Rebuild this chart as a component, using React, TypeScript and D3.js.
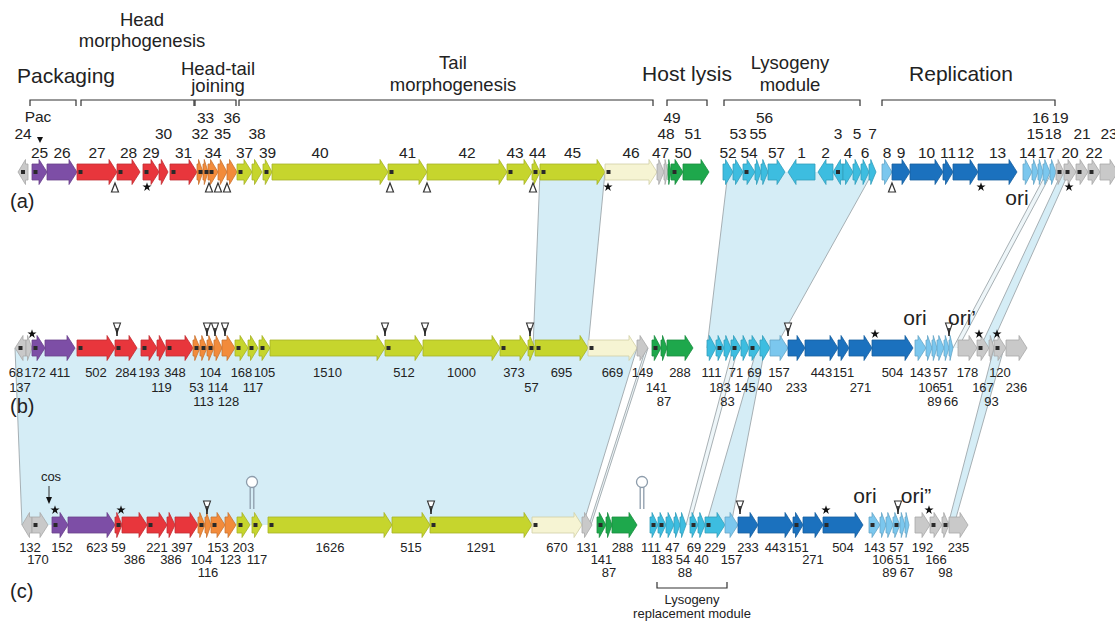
import React, { useEffect, useRef } from "react";
import * as d3 from "d3";

const W = 1115;
const H = 623;

// gene: [name, start (kb), end (kb), colour key, label level, flags ("m" marker, "<" leftward), label pos (kb)]
type Gene = [string, number, number, string, number, string?, number?];

const genesA: Gene[] = [
  ["24", 0.72, 1.12, "g", 2, "m<"], ["25", 1.28, 1.88, "p", 1, "m"], ["26", 1.88, 3.08, "p", 1],
  ["27", 3.08, 4.68, "r", 1, "m"], ["28", 4.68, 5.6, "r", 1, "m"], ["29", 5.72, 6.36, "r", 1, "m"],
  ["30", 6.36, 6.72, "r", 2], ["31", 6.8, 7.88, "r", 1, "m"], ["32", 7.88, 8.12, "o", 2, "m"],
  ["33", 8.12, 8.32, "o", 3, "m"], ["34", 8.32, 8.72, "o", 1, "m"], ["35", 8.72, 9.08, "o", 2],
  ["36", 9.08, 9.48, "o", 3], ["37", 9.48, 10.08, "y", 1, "m"], ["38", 10.08, 10.48, "y", 2],
  ["39", 10.52, 10.88, "y", 1, "m"], ["40", 10.88, 15.52, "y", 1, "", 12.8], ["41", 15.52, 17.08, "y", 1, "m"],
  ["42", 17.08, 20.28, "y", 1], ["43", 20.28, 21.28, "y", 1, "m", 20.6], ["44", 21.28, 21.6, "y", 1, "m", 21.5],
  ["45", 21.6, 24.2, "y", 1, "m"], ["46", 24.2, 26.28, "w", 1, "m"], ["47", 26.28, 26.56, "g", 1],
  ["48", 26.56, 26.72, "g", 2], ["49", 26.72, 26.84, "G", 3, "", 26.88], ["50", 26.84, 27.32, "G", 1, "m", 27.32],
  ["51", 27.32, 28.36, "G", 2, "", 27.72], ["52", 28.92, 29.32, "c", 1], ["53", 29.32, 29.72, "c", 2],
  ["54", 29.72, 30.2, "c", 1, "m"], ["55", 30.2, 30.44, "c", 2], ["56", 30.44, 30.72, "c", 3],
  ["57", 30.72, 31.4, "c", 1], ["1", 31.52, 32.6, "c", 1, "<"], ["2", 32.72, 33.32, "c", 1, "<"],
  ["3", 33.32, 33.72, "c", 2, "m<"], ["4", 33.72, 34.12, "c", 1], ["5", 34.12, 34.44, "c", 2],
  ["6", 34.44, 34.76, "c", 1], ["7", 34.76, 35.04, "c", 2], ["8", 35.28, 35.68, "b", 1],
  ["9", 35.68, 36.4, "B", 1], ["10", 36.4, 37.72, "B", 1], ["11", 37.72, 38.12, "B", 1],
  ["12", 38.12, 39.12, "B", 1], ["13", 39.12, 40.68, "B", 1], ["14", 40.92, 41.28, "b", 1],
  ["15", 41.28, 41.52, "b", 2], ["16", 41.52, 41.72, "b", 3], ["17", 41.72, 42.0, "b", 1],
  ["18", 42.0, 42.24, "b", 2], ["19", 42.24, 42.56, "g", 3, "m"], ["20", 42.56, 43.04, "g", 1, "m"],
  ["21", 43.04, 43.52, "g", 2, "m"], ["22", 43.52, 44.0, "g", 1, "m"], ["23", 44.0, 44.72, "g", 2],
];

const genesB: Gene[] = [
  ["68", 0.6, 1.04, "g", 1, "m<", 0.64], ["137", 1.04, 1.28, "g", 2, "", 0.8], ["172", 1.28, 1.8, "p", 1, "m", 1.4],
  ["411", 1.8, 3.0, "p", 1, "", 2.4], ["502", 3.08, 4.6, "r", 1, "m"], ["284", 4.6, 5.48, "r", 1, "m"],
  ["193", 5.64, 6.28, "r", 1, "m"], ["119", 6.28, 6.64, "r", 2], ["348", 6.64, 7.72, "r", 1, "m", 7.0],
  ["53", 7.72, 8.0, "o", 2, "m"], ["113", 8.0, 8.28, "o", 3, "m"], ["104", 8.28, 8.56, "o", 1, "m"],
  ["114", 8.56, 8.88, "o", 2], ["128", 8.88, 9.4, "o", 3], ["168", 9.4, 9.92, "y", 1, "m"],
  ["117", 9.92, 10.32, "y", 2, "m"], ["105", 10.36, 10.8, "y", 1, "m"], ["1510", 10.8, 15.4, "y", 1],
  ["512", 15.4, 16.92, "y", 1, "m"], ["1000", 16.92, 20.0, "y", 1], ["373", 20.0, 21.12, "y", 1, "m"],
  ["57", 21.12, 21.4, "y", 2, "m"], ["695", 21.4, 23.52, "y", 1, "m"], ["669", 23.52, 25.48, "w", 1, "m"],
  ["149", 25.48, 25.92, "g", 1], ["141", 26.08, 26.44, "G", 2, "m"], ["87", 26.44, 26.68, "G", 3],
  ["288", 26.68, 27.72, "G", 1], ["111", 28.28, 28.64, "c", 1], ["183", 28.64, 28.96, "c", 2, "m"],
  ["83", 28.96, 29.24, "c", 3], ["71", 29.24, 29.64, "c", 1, "m"], ["145", 29.64, 29.96, "c", 2],
  ["69", 29.96, 30.4, "c", 1, "m"], ["40", 30.4, 30.8, "c", 2], ["157", 30.8, 31.52, "b", 1],
  ["233", 31.52, 32.2, "B", 2], ["443", 32.2, 33.52, "B", 1], ["151", 33.52, 33.96, "B", 1],
  ["271", 33.96, 34.88, "B", 2], ["504", 34.88, 36.52, "B", 1], ["143", 36.6, 37.04, "b", 1],
  ["106", 37.04, 37.28, "b", 2], ["89", 37.28, 37.48, "b", 3], ["57", 37.48, 37.76, "b", 1],
  ["51", 37.76, 37.96, "b", 2], ["66", 37.96, 38.12, "b", 3], ["178", 38.32, 39.08, "g", 1],
  ["167", 39.08, 39.56, "g", 2, "m"], ["93", 39.56, 39.76, "g", 3], ["120", 39.76, 40.24, "g", 1, "m"],
  ["236", 40.24, 41.08, "g", 2],
];

const genesC: Gene[] = [
  ["132", 0.88, 1.28, "g", 1, "<", 1.2], ["170", 1.28, 1.92, "g", 2, "m", 1.52], ["152", 2.08, 2.72, "p", 1, "m", 2.48],
  ["623", 2.72, 4.6, "p", 1, "", 3.88], ["59", 4.6, 4.88, "r", 1, "m"], ["386", 4.88, 5.88, "r", 2],
  ["221", 5.88, 6.68, "r", 1, "m"], ["386", 6.68, 7.0, "r", 2], ["397", 7.0, 7.92, "r", 1, "", 7.28],
  ["104", 7.92, 8.2, "o", 2, "m"], ["116", 8.2, 8.44, "o", 3], ["153", 8.44, 9.0, "o", 1, "m"],
  ["123", 9.0, 9.44, "o", 2], ["203", 9.48, 10.0, "y", 1, "m"], ["117", 10.08, 10.48, "y", 2, "m"],
  ["1626", 10.72, 15.68, "y", 1, "m"], ["515", 15.68, 17.2, "y", 1], ["1291", 17.2, 21.28, "y", 1, "m"],
  ["670", 21.28, 23.28, "w", 1, "m"], ["131", 23.28, 23.68, "g", 1], ["141", 23.88, 24.24, "G", 2, "m"],
  ["87", 24.24, 24.48, "G", 3], ["288", 24.48, 25.48, "G", 1, "", 24.9], ["111", 26.0, 26.32, "c", 1, "m", 26.04],
  ["183", 26.32, 26.64, "c", 2, "m"], ["47", 26.64, 26.96, "c", 1, "", 26.9], ["88", 26.96, 27.2, "c", 3, "", 27.4],
  ["54", 27.2, 27.44, "c", 2], ["69", 27.6, 27.92, "c", 1, "m"], ["40", 27.92, 28.2, "c", 2],
  ["229", 28.2, 29.0, "c", 1, "m"], ["157", 29.0, 29.52, "b", 2], ["233", 29.52, 30.32, "B", 1],
  ["443", 30.32, 31.72, "B", 1], ["151", 31.72, 32.12, "B", 1, "m"], ["271", 32.12, 32.92, "B", 2],
  ["504", 32.92, 34.52, "B", 1, "m"], ["143", 34.76, 35.2, "b", 1, "m"], ["106", 35.2, 35.44, "b", 2],
  ["89", 35.44, 35.72, "b", 3], ["57", 35.72, 36.0, "b", 1, "m"], ["51", 36.0, 36.2, "b", 2],
  ["67", 36.2, 36.36, "b", 3], ["192", 36.6, 37.2, "g", 1], ["166", 37.2, 37.68, "g", 2, "m"],
  ["98", 37.68, 37.96, "g", 3, "m"], ["235", 37.96, 38.72, "g", 1],
];

// homologous regions between genomes: [from, s, e, to, s, e, kind]
const links: [string, number, number, string, number, number, string][] = [
  ["a", 21.6, 24.2, "b", 21.32, 23.52, "band"],
  ["a", 29.12, 34.92, "b", 28.28, 31.0, "band"],
  ["a", 41.88, 42.08, "b", 38.12, 38.32, "line"],
  ["a", 42.48, 42.76, "b", 39.2, 39.6, "band"],
  ["b", 0.6, 25.48, "c", 0.88, 23.32, "band"],
  ["b", 25.84, 25.92, "c", 23.56, 23.64, "line"],
  ["b", 29.32, 29.52, "c", 27.44, 27.6, "line"],
  ["b", 30.28, 30.6, "c", 28.24, 29.24, "band"],
  ["b", 39.76, 40.16, "c", 37.92, 38.16, "band"],
];

const triA = [4.6, 8.36, 8.72, 9.08, 15.6, 17.08, 21.32, 35.68];
const starA = [5.88, 24.32, 39.24, 42.76];
const triB = [4.68, 8.28, 8.6, 9.0, 15.4, 17.0, 21.2, 31.52, 37.96];
const starB = [1.28, 35.0, 39.16, 39.88];
const triC = [8.28, 17.24, 29.6, 35.92];
const starC = [2.2, 4.84, 33.04, 37.16];
const loopsC = [10.08, 25.68];

const modules: [string, number, number][] = [
  ["Packaging", 1.2, 3.04], ["Head morphogenesis", 3.24, 7.76], ["Head-tail joining", 7.8, 9.44],
  ["Tail morphogenesis", 9.56, 26.12], ["Host lysis", 26.68, 28.28], ["Lysogeny module", 28.96, 34.4],
  ["Replication", 35.28, 42.2],
];

const oriLabels: [string, string, number][] = [
  ["a", "ori", 40.68], ["b", "ori", 36.6], ["b", "ori\u2019", 38.48], ["c", "ori", 34.6], ["c", "ori\u201d", 36.64],
];

const colours: Record<string, string> = {
  g: "#c9c9c9", p: "#7d4ea6", r: "#e8363c", o: "#f28b3b", y: "#c6d52d", w: "#f6f4d3",
  G: "#1ea84c", c: "#3dbde0", b: "#7bc7ee", B: "#1b71be",
};

const FONT = "'Liberation Sans', Arial, Helvetica, sans-serif";

export default function App() {
  const svgRef = useRef<SVGSVGElement>(null);

  useEffect(() => {
    const svg = d3.select(svgRef.current);
    svg.selectAll("*").remove();
    svg.attr("font-family", FONT);

    const x = d3.scaleLinear().domain([0, 44.6]).range([0, W]);
    const rowY: Record<string, number> = { a: 172, b: 348, c: 525 };
    const labelY: Record<string, number[]> = { a: [158, 139, 123], b: [377, 392, 406], c: [552, 564, 577] };
    const labelSize: Record<string, number> = { a: 15.5, b: 13, c: 13 };

    // shaded homology
    const gLinks = svg.append("g");
    links.forEach(([r1, s1, e1, r2, s2, e2, kind]) => {
      const y1 = rowY[r1], y2 = rowY[r2];
      gLinks.append("path")
        .attr("d", `M${x(s1)},${y1}L${x(e1)},${y1}L${x(e2)},${y2}L${x(s2)},${y2}Z`)
        .attr("fill", kind === "band" ? "#d5edf6" : "#eef6f9")
        .attr("stroke", "none");
      [[s1, s2], [e1, e2]].forEach(([a, b]) => {
        gLinks.append("line")
          .attr("x1", x(a)).attr("y1", y1).attr("x2", x(b)).attr("y2", y2)
          .attr("stroke", "#9ea7ab").attr("stroke-width", 0.9);
      });
    });

    const arrow = (x0: number, x1: number, yc: number, left: boolean) => {
      const bh = 8, hh = 12.5;
      const len = Math.max(x1 - x0, 2);
      const hl = Math.min(8, len * 0.75);
      if (!left) {
        const xb = x1 - hl;
        return `M${x0},${yc - bh}L${xb},${yc - bh}L${xb},${yc - hh}L${x1},${yc}L${xb},${yc + hh}L${xb},${yc + bh}L${x0},${yc + bh}Z`;
      }
      const xb = x0 + hl;
      return `M${x1},${yc - bh}L${xb},${yc - bh}L${xb},${yc - hh}L${x0},${yc}L${xb},${yc + hh}L${xb},${yc + bh}L${x1},${yc + bh}Z`;
    };

    const rows: [string, Gene[]][] = [["a", genesA], ["b", genesB], ["c", genesC]];
    rows.forEach(([id, genes]) => {
      const yc = rowY[id];
      const g = svg.append("g");
      g.selectAll("path.gene")
        .data(genes)
        .enter()
        .append("path")
        .attr("class", "gene")
        .attr("d", (d) => arrow(x(d[1]), x(d[2]), yc, (d[5] || "").includes("<")))
        .attr("fill", (d) => colours[d[3]])
        .attr("stroke", (d) => (d[3] === "w" ? "#d2cfa6" : d3.color(colours[d[3]])!.darker(0.5).toString()))
        .attr("stroke-width", 0.8);

      g.selectAll("rect.mk")
        .data(genes.filter((d) => (d[5] || "").includes("m")))
        .enter()
        .append("rect")
        .attr("class", "mk")
        .attr("x", (d) => ((d[5] || "").includes("<") ? (x(d[1]) + x(d[2])) / 2 - 2 : x(d[1]) + 1.5))
        .attr("y", yc - 2)
        .attr("width", 4)
        .attr("height", 4)
        .attr("fill", "#2a2a2a");

      g.selectAll("text.lab")
        .data(genes)
        .enter()
        .append("text")
        .attr("class", "lab")
        .attr("x", (d) => x(d[6] !== undefined ? d[6] : (d[1] + d[2]) / 2))
        .attr("y", (d) => labelY[id][d[4] - 1])
        .attr("text-anchor", "middle")
        .attr("font-size", labelSize[id])
        .attr("fill", "#222")
        .text((d) => d[0]);
    });

    // open triangles
    const triUp = (cx: number, y0: number) => `M${cx},${y0}L${cx + 3.5},${y0 + 9}L${cx - 3.5},${y0 + 9}Z`;
    const triDown = (cx: number, y0: number) => `M${cx - 3.5},${y0}L${cx + 3.5},${y0}L${cx},${y0 + 10}Z`;
    svg.append("g").selectAll("path").data(triA).enter().append("path")
      .attr("d", (d) => triUp(x(d), 183)).attr("fill", "#fff").attr("stroke", "#333").attr("stroke-width", 1.2);
    const downTris: [number[], number][] = [[triB, 323], [triC, 501]];
    downTris.forEach(([arr, y0]) => {
      const g = svg.append("g");
      g.selectAll("path.t").data(arr).enter().append("path")
        .attr("d", (d) => triDown(x(d), y0)).attr("fill", "#fff").attr("stroke", "#333").attr("stroke-width", 1.1);
      g.selectAll("line").data(arr).enter().append("line")
        .attr("x1", (d) => x(d)).attr("x2", (d) => x(d)).attr("y1", y0 + 5).attr("y2", y0 + 13)
        .attr("stroke", "#222").attr("stroke-width", 1.6);
    });

    // stars
    const star = d3.symbol(d3.symbolStar, 26);
    const starRows: [number[], number][] = [[starA, 187], [starB, 334], [starC, 510]];
    starRows.forEach(([arr, yy]) => {
      svg.append("g").selectAll("path").data(arr).enter().append("path")
        .attr("d", star()!).attr("transform", (d) => `translate(${x(d)},${yy})`).attr("fill", "#111");
    });

    // stem loops (terminators)
    loopsC.forEach((p) => {
      const cx = x(p);
      const g = svg.append("g").attr("stroke", "#8d9cab").attr("fill", "none").attr("stroke-width", 1.3);
      g.append("circle").attr("cx", cx).attr("cy", 482).attr("r", 5.5).attr("fill", "#fff");
      g.append("line").attr("x1", cx - 1.8).attr("x2", cx - 1.8).attr("y1", 487).attr("y2", 509);
      g.append("line").attr("x1", cx + 1.8).attr("x2", cx + 1.8).attr("y1", 487).attr("y2", 509);
    });

    // module brackets
    const gb = svg.append("g").attr("stroke", "#333").attr("stroke-width", 1.2).attr("fill", "none");
    modules.forEach(([, s, e]) => {
      gb.append("path").attr("d", `M${x(s)},106V100H${x(e)}V106`);
    });

    // module titles
    const titles: [string[], number, number[], number][] = [
      [["Packaging"], 2.64, [83], 21],
      [["Head", "morphogenesis"], 5.68, [26, 47], 18.5],
      [["Head-tail", "joining"], 8.72, [75, 92], 18.5],
      [["Tail", "morphogenesis"], 18.12, [69, 91], 18.5],
      [["Host lysis"], 27.48, [81], 21],
      [["Lysogeny", "module"], 31.6, [69, 91], 18.5],
      [["Replication"], 38.44, [81], 21],
    ];
    titles.forEach(([lines, cx, ys, fs]) => {
      lines.forEach((t, i) => {
        svg.append("text").attr("x", x(cx)).attr("y", ys[i]).attr("text-anchor", "middle")
          .attr("font-size", fs).attr("fill", "#222").text(t);
      });
    });

    // Pac site
    svg.append("text").attr("x", x(1.52)).attr("y", 122).attr("text-anchor", "middle")
      .attr("font-size", 15.5).attr("fill", "#222").text("Pac");
    svg.append("path").attr("d", `M${x(1.6) - 3},137L${x(1.6) + 3},137L${x(1.6)},143Z`).attr("fill", "#111");

    // cos site
    const cosX = x(1.96);
    svg.append("text").attr("x", cosX + 2).attr("y", 481).attr("text-anchor", "middle")
      .attr("font-size", 13).attr("fill", "#222").text("cos");
    svg.append("line").attr("x1", cosX).attr("x2", cosX).attr("y1", 486).attr("y2", 498)
      .attr("stroke", "#333").attr("stroke-width", 1);
    svg.append("path").attr("d", `M${cosX - 3},497L${cosX + 3},497L${cosX},504Z`).attr("fill", "#111");

    // ori labels
    const oriY: Record<string, number> = { a: 205, b: 325, c: 503 };
    oriLabels.forEach(([r, t, p]) => {
      svg.append("text").attr("x", x(p)).attr("y", oriY[r]).attr("text-anchor", "middle")
        .attr("font-size", 21).attr("fill", "#222").text(t);
    });

    // lysogeny replacement module
    svg.append("path").attr("d", `M${x(26.28)},582V588H${x(29.08)}V582`)
      .attr("stroke", "#333").attr("stroke-width", 1.2).attr("fill", "none");
    [["Lysogeny", 604], ["replacement module", 618]].forEach(([t, yy]) => {
      svg.append("text").attr("x", x(27.68)).attr("y", yy as number).attr("text-anchor", "middle")
        .attr("font-size", 13).attr("fill", "#222").text(t as string);
    });

    // panel letters
    [["(a)", 208], ["(b)", 413], ["(c)", 598]].forEach(([t, yy]) => {
      svg.append("text").attr("x", 10).attr("y", yy as number).attr("font-size", 20)
        .attr("fill", "#222").text(t as string);
    });
  }, []);

  return (
    <svg
      ref={svgRef}
      width={W}
      height={H}
      style={{ position: "absolute", left: 0, top: 0, background: "#fff" }}
    />
  );
}
